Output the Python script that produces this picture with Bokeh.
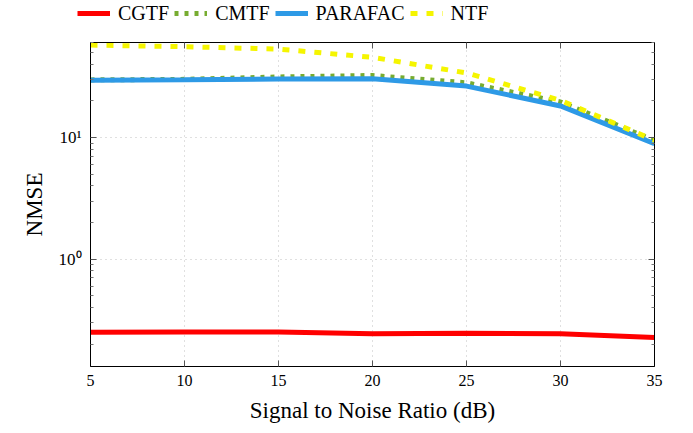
from bokeh.plotting import figure
from bokeh.layouts import column
from bokeh.models import (FixedTicker, CustomJSTickFormatter, LinearAxis, LogAxis,
                          Legend, LegendItem, Range1d)
from bokeh.embed import file_html
from bokeh.resources import INLINE

snr = [5, 10, 15, 20, 25, 30, 35]
cgtf = [0.250, 0.252, 0.252, 0.244, 0.246, 0.244, 0.227]
cmtf = [29.8, 30.1, 31.5, 32.4, 28.2, 19.6, 9.45]
parafac = [29.6, 29.9, 30.3, 30.5, 26.5, 18.2, 8.9]
ntf = [57.6, 55.9, 53.4, 45.7, 34.0, 20.2, 9.5]

x_ticks = [5, 10, 15, 20, 25, 30, 35]
y_major = [1, 10]
y_minor = [0.2, 0.3, 0.4, 0.5, 0.6, 0.7, 0.8, 0.9,
           2, 3, 4, 5, 6, 7, 8, 9, 20, 30, 40, 50, 60]

series = [("CGTF", cgtf, "#FF0000", None),
          ("CMTF", cmtf, "#77AC30", "4 6"),
          ("PARAFAC", parafac, "#2E9AE6", None),
          ("NTF", ntf, "#F5F500", "7 9")]

FONT = "Liberation Serif"

p = figure(width=693, height=395, y_axis_type="log", output_backend="svg",
           toolbar_location=None, x_range=Range1d(5, 35), y_range=Range1d(0.131, 60.5),
           min_border_left=90, min_border_right=39, min_border_top=2, min_border_bottom=67)
p.background_fill_color = "white"
p.border_fill_color = "white"
p.outline_line_color = "black"
p.outline_line_width = 1

xt = FixedTicker(ticks=x_ticks)
yt = FixedTicker(ticks=y_major, minor_ticks=y_minor)
yfmt = CustomJSTickFormatter(code="""
const sup = {'0':'\u2070','1':'\u00b9','2':'\u00b2','3':'\u00b3','-':'\u207b'};
const e = Math.round(Math.log10(tick));
return '10' + String(e).split('').map(c => sup[c]).join('');
""")
blank = CustomJSTickFormatter(code="return ' ';")

def style(ax):
    ax.axis_line_color = "black"
    ax.major_tick_in = 6
    ax.major_tick_out = 0
    ax.minor_tick_in = 3
    ax.minor_tick_out = 0
    ax.major_tick_line_color = "#555555"
    ax.minor_tick_line_color = "#777777"
    ax.major_label_text_font = FONT
    ax.major_label_text_font_size = "16px"
    ax.major_label_text_color = "black"
    ax.axis_label_text_font = FONT
    ax.axis_label_text_font_size = "23px"
    ax.axis_label_text_font_style = "normal"
    ax.axis_label_text_color = "black"

p.xaxis.ticker = xt
p.yaxis.ticker = yt
p.yaxis.formatter = yfmt
p.xaxis.axis_label = "Signal to Noise Ratio (dB)"
p.yaxis.axis_label = "NMSE"
for ax in p.xaxis + p.yaxis:
    style(ax)
p.yaxis.major_label_text_font_size = "17px"
p.xaxis.major_label_standoff = 8
p.xaxis.axis_label_standoff = 9
p.yaxis.major_label_standoff = 9
p.yaxis.axis_label_standoff = 9

ax_top = LinearAxis(ticker=xt, formatter=blank)
ax_right = LogAxis(ticker=yt, formatter=blank)
for ax in (ax_top, ax_right):
    style(ax)
    ax.major_label_standoff = 0
    ax.major_label_text_font_size = "1px"
p.add_layout(ax_top, "above")
p.add_layout(ax_right, "right")

p.xgrid.ticker = xt
p.ygrid.ticker = yt
for g in (p.xgrid[0], p.ygrid[0]):
    g.grid_line_color = "#c0c0c0"
    g.grid_line_dash = "1 4"
    g.grid_line_width = 1
p.ygrid.minor_grid_line_color = None

for name, vals, color, dash in series:
    kw = dict(line_color=color, line_width=5)
    if dash:
        kw["line_dash"] = dash
    p.line(snr, vals, **kw)

# legend strip above the plot (its ranges keep the series out of view;
# only the legend entries are shown)
lg = figure(width=693, height=38, output_backend="svg", toolbar_location=None,
            x_range=Range1d(100, 101), y_range=Range1d(100, 101),
            x_axis_location=None, y_axis_location=None,
            min_border_left=0, min_border_right=0, min_border_top=0, min_border_bottom=0)
lg.outline_line_color = None
lg.grid.visible = False
lg.background_fill_color = "white"
lg.border_fill_color = "white"
items = []
for name, vals, color, dash in series:
    kw = dict(line_color=color, line_width=5)
    if dash:
        kw["line_dash"] = dash
    r = lg.line(snr, vals, **kw)
    items.append(LegendItem(label=name, renderers=[r]))

legend = Legend(items=items, orientation="horizontal", location=(77, 13))
legend.border_line_color = None
legend.background_fill_alpha = 0
legend.label_text_font = FONT
legend.label_text_font_size = "20px"
legend.label_text_color = "black"
legend.glyph_width = 33
legend.glyph_height = 24
legend.label_standoff = 8
legend.spacing = 5
legend.padding = 0
legend.margin = 0
legend.label_height = 24
lg.add_layout(legend, "center")

layout = column(column(lg), p, spacing=0)
open("out.html", "w").write(file_html(layout, INLINE))
